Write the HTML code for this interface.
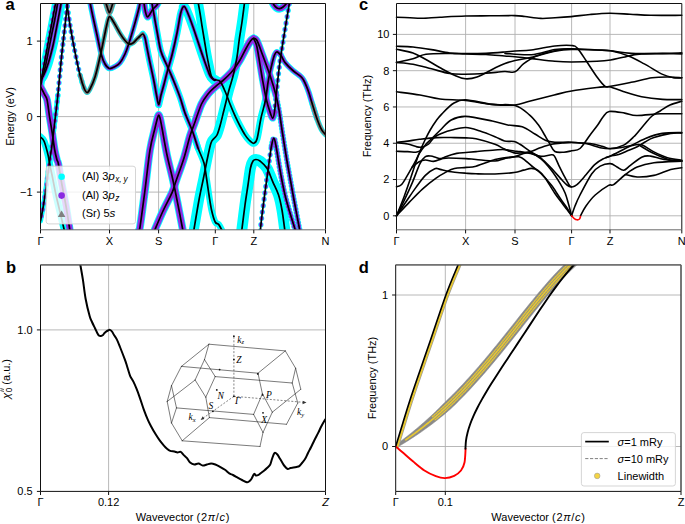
<!DOCTYPE html>
<html><head><meta charset="utf-8"><style>
html,body{margin:0;padding:0;background:#fff;}
svg{display:block;}
text{font-family:"Liberation Sans",sans-serif;}
text.sf{font-family:"Liberation Serif",serif;font-style:italic;}
</style></head><body>
<svg width="685" height="524" viewBox="0 0 685 524">
<defs><clipPath id="ca"><rect x="40.5" y="3.5" width="285.0" height="226.3"/></clipPath></defs>
<rect width="685" height="524" fill="#fff"/>
<path d="M109.5,3.5V229.8 M158.6,3.5V229.8 M215.3,3.5V229.8 M253.8,3.5V229.8 M40.5,192.10H325.5 M40.5,116.60H325.5 M40.5,41.10H325.5" stroke="#b0b0b0" stroke-width="0.9" fill="none"/>
<g clip-path="url(#ca)" fill="none" stroke-linecap="round" stroke-linejoin="round">
<path d="M80.00,75.00C80.67,77.17 82.83,85.08 84.00,88.00C85.17,90.92 86.00,92.33 87.00,92.50C88.00,92.67 88.67,91.58 90.00,89.00C91.33,86.42 93.33,82.33 95.00,77.00C96.67,71.67 98.50,63.50 100.00,57.00C101.50,50.50 102.83,43.50 104.00,38.00C105.17,32.50 106.10,27.55 107.00,24.00C107.90,20.45 108.40,17.20 109.40,16.70C110.40,16.20 111.23,18.22 113.00,21.00C114.77,23.78 118.00,30.15 120.00,33.40C122.00,36.65 123.50,38.73 125.00,40.50C126.50,42.27 127.67,43.58 129.00,44.00C130.33,44.42 131.50,44.00 133.00,43.00C134.50,42.00 136.38,39.50 138.00,38.00C139.62,36.50 141.92,34.67 142.70,34.00" stroke="#00ffff" stroke-width="5.0"/>
<path d="M142.70,34.00C143.08,34.67 144.28,35.67 145.00,38.00C145.72,40.33 146.27,44.33 147.00,48.00C147.73,51.67 148.28,54.67 149.40,60.00C150.52,65.33 152.52,74.17 153.70,80.00C154.88,85.83 155.67,90.88 156.50,95.00C157.33,99.12 158.33,103.08 158.70,104.70" stroke="#00ffff" stroke-width="6.5"/>
<path d="M158.70,104.70C159.08,103.08 160.15,98.28 161.00,95.00C161.85,91.72 162.77,88.83 163.80,85.00C164.83,81.17 165.83,77.00 167.20,72.00C168.57,67.00 170.37,61.50 172.00,55.00C173.63,48.50 175.58,39.83 177.00,33.00C178.42,26.17 179.47,18.35 180.50,14.00C181.53,9.65 182.75,8.08 183.20,6.90" stroke="#00ffff" stroke-width="7.0"/>
<path d="M183.20,6.90C183.67,7.25 184.35,5.62 186.00,9.00C187.65,12.38 190.40,19.63 193.10,27.20C195.80,34.77 199.48,46.55 202.20,54.40C204.92,62.25 207.68,70.28 209.40,74.30C211.12,78.32 211.53,77.58 212.50,78.50C213.47,79.42 214.75,79.58 215.20,79.80" stroke="#00ffff" stroke-width="9.0"/>
<path d="M215.20,79.80C216.05,80.10 218.53,79.40 220.30,81.60C222.07,83.80 224.18,89.27 225.80,93.00C227.42,96.73 228.40,100.05 230.00,104.00C231.60,107.95 233.73,113.03 235.40,116.70C237.07,120.37 238.40,122.97 240.00,126.00C241.60,129.03 243.50,132.57 245.00,134.90C246.50,137.23 247.58,138.60 249.00,140.00C250.42,141.40 252.17,143.47 253.50,143.30C254.83,143.13 255.75,143.22 257.00,139.00C258.25,134.78 259.58,124.50 261.00,118.00C262.42,111.50 264.27,106.30 265.50,100.00C266.73,93.70 267.92,83.50 268.40,80.20" stroke="#00ffff" stroke-width="7.0"/>
<path d="M265.50,100.00C265.98,96.70 267.28,86.37 268.40,80.20C269.52,74.03 271.18,67.20 272.20,63.00C273.22,58.80 273.72,56.87 274.50,55.00C275.28,53.13 275.82,51.72 276.90,51.80C277.98,51.88 279.60,53.65 281.00,55.50C282.40,57.35 283.32,60.40 285.30,62.90C287.28,65.40 290.35,68.27 292.90,70.50C295.45,72.73 298.83,74.72 300.60,76.30C302.37,77.88 302.55,78.42 303.50,80.00C304.45,81.58 305.38,83.63 306.30,85.80C307.22,87.97 308.05,90.13 309.00,93.00C309.95,95.87 310.70,98.80 312.00,103.00C313.30,107.20 316.00,115.67 316.80,118.20" stroke="#00ffff" stroke-width="5.8"/>
<path d="M312.00,103.00C312.80,105.53 315.20,113.75 316.80,118.20C318.40,122.65 320.15,126.98 321.60,129.70C323.05,132.42 324.85,133.70 325.50,134.50" stroke="#00ffff" stroke-width="5.5"/>
<path d="M105.00,0.00C105.42,1.33 106.77,5.88 107.50,8.00C108.23,10.12 108.77,12.70 109.40,12.70C110.03,12.70 110.57,10.12 111.30,8.00C112.03,5.88 113.38,1.33 113.80,0.00" stroke="#00ffff" stroke-width="6.0"/>
<path d="M89.50,0.00C90.08,2.83 91.75,11.17 93.00,17.00C94.25,22.83 95.60,28.67 97.00,35.00C98.40,41.33 100.07,50.17 101.40,55.00C102.73,59.83 103.67,61.75 105.00,64.00C106.33,66.25 107.73,68.08 109.40,68.50C111.07,68.92 113.23,67.45 115.00,66.50C116.77,65.55 118.33,64.88 120.00,62.80C121.67,60.72 123.55,57.13 125.00,54.00C126.45,50.87 127.08,49.00 128.70,44.00C130.32,39.00 132.98,30.00 134.70,24.00C136.42,18.00 138.03,12.00 139.00,8.00C139.97,4.00 140.25,1.33 140.50,0.00" stroke="#00ffff" stroke-width="5.6"/>
<path d="M143.50,0.00C143.83,2.00 144.83,9.17 145.50,12.00C146.17,14.83 146.75,16.67 147.50,17.00C148.25,17.33 149.08,15.33 150.00,14.00C150.92,12.67 151.83,10.50 153.00,9.00C154.17,7.50 155.92,6.50 157.00,5.00C158.08,3.50 159.08,0.83 159.50,0.00" stroke="#00ffff" stroke-width="7.0"/>
<path d="M151.80,0.00C151.90,0.95 151.50,0.28 152.40,5.70C153.30,11.12 155.77,24.85 157.20,32.50C158.63,40.15 159.40,46.18 161.00,51.60C162.60,57.02 164.73,60.23 166.80,65.00C168.87,69.77 171.18,74.78 173.40,80.20C175.62,85.62 178.17,92.03 180.10,97.50C182.03,102.97 182.95,107.42 185.00,113.00C187.05,118.58 190.23,125.17 192.40,131.00C194.57,136.83 197.07,145.17 198.00,148.00" stroke="#00ffff" stroke-width="6.5"/>
<path d="M192.40,131.00C193.33,133.83 196.07,142.67 198.00,148.00C199.93,153.33 202.58,158.00 204.00,163.00C205.42,168.00 205.67,172.67 206.50,178.00C207.33,183.33 208.15,189.63 209.00,195.00C209.85,200.37 210.57,205.70 211.60,210.20C212.63,214.70 214.00,219.60 215.20,222.00C216.40,224.40 217.62,223.10 218.80,224.60C219.98,226.10 221.72,229.93 222.30,231.00" stroke="#00ffff" stroke-width="6.5"/>
<path d="M154.30,231.00C155.75,227.67 160.02,217.45 163.00,211.00C165.98,204.55 170.03,197.30 172.20,192.30C174.37,187.30 174.03,186.72 176.00,181.00C177.97,175.28 181.67,165.50 184.00,158.00C186.33,150.50 188.17,142.00 190.00,136.00C191.83,130.00 193.08,127.33 195.00,122.00C196.92,116.67 199.33,108.67 201.50,104.00C203.67,99.33 205.72,96.87 208.00,94.00C210.28,91.13 212.70,89.05 215.20,86.80C217.70,84.55 220.33,82.88 223.00,80.50C225.67,78.12 229.20,74.67 231.20,72.50C233.20,70.33 233.53,69.58 235.00,67.50C236.47,65.42 238.17,63.17 240.00,60.00C241.83,56.83 244.25,51.67 246.00,48.50C247.75,45.33 249.23,42.68 250.50,41.00C251.77,39.32 253.08,38.83 253.60,38.40" stroke="#00ffff" stroke-width="8.0"/>
<path d="M253.60,38.40C254.17,38.75 255.50,37.73 257.00,40.50C258.50,43.27 260.38,49.03 262.60,55.00C264.82,60.97 268.07,69.57 270.30,76.30C272.53,83.03 275.05,92.22 276.00,95.40" stroke="#00ffff" stroke-width="7.0"/>
<path d="M253.60,38.40C254.08,39.50 255.63,41.85 256.50,45.00C257.37,48.15 257.78,51.43 258.80,57.30C259.82,63.17 261.32,73.08 262.60,80.20C263.88,87.32 265.27,94.70 266.50,100.00C267.73,105.30 268.97,108.98 270.00,112.00C271.03,115.02 271.95,118.10 272.70,118.10C273.45,118.10 274.20,113.02 274.50,112.00" stroke="#00ffff" stroke-width="7.0"/>
<path d="M193.70,231.00C194.58,225.83 197.37,208.83 199.00,200.00C200.63,191.17 202.08,185.00 203.50,178.00C204.92,171.00 206.25,163.83 207.50,158.00C208.75,152.17 209.92,146.25 211.00,143.00C212.08,139.75 213.00,139.83 214.00,138.50C215.00,137.17 216.00,137.08 217.00,135.00C218.00,132.92 218.78,130.38 220.00,126.00C221.22,121.62 222.80,114.70 224.30,108.70C225.80,102.70 227.47,95.73 229.00,90.00C230.53,84.27 232.17,79.80 233.50,74.30C234.83,68.80 236.05,62.72 237.00,57.00C237.95,51.28 238.37,45.83 239.20,40.00C240.03,34.17 241.12,28.17 242.00,22.00C242.88,15.83 244.00,6.67 244.50,3.00C245.00,-0.67 244.92,0.50 245.00,0.00" stroke="#00ffff" stroke-width="10.0"/>
<path d="M197.70,0.00C198.08,2.17 199.25,8.47 200.00,13.00C200.75,17.53 201.45,22.53 202.20,27.20C202.95,31.87 203.75,36.47 204.50,41.00C205.25,45.53 205.95,50.23 206.70,54.40C207.45,58.57 208.23,62.38 209.00,66.00C209.77,69.62 210.47,73.77 211.30,76.10C212.13,78.43 213.33,79.35 214.00,80.00C214.67,80.65 215.08,80.00 215.30,80.00" stroke="#00ffff" stroke-width="9.5"/>
<path d="M40.50,86.60C40.83,87.25 41.77,89.07 42.50,90.50C43.23,91.93 44.13,93.62 44.90,95.20C45.67,96.78 46.33,96.47 47.10,100.00C47.87,103.53 48.63,110.83 49.50,116.40C50.37,121.97 51.43,127.80 52.30,133.40C53.17,139.00 53.92,145.57 54.70,150.00C55.48,154.43 56.38,157.67 57.00,160.00C57.62,162.33 57.57,159.83 58.40,164.00C59.23,168.17 60.73,178.00 62.00,185.00C63.27,192.00 64.67,198.33 66.00,206.00C67.33,213.67 69.33,226.83 70.00,231.00" stroke="#00ffff" stroke-width="7.6"/>
<path d="M40.50,80.00C40.68,79.63 40.27,84.35 41.60,77.80C42.93,71.25 46.18,53.07 48.50,40.70C50.82,28.33 54.22,10.38 55.50,3.60C56.78,-3.18 56.08,0.60 56.20,0.00" stroke="#00ffff" stroke-width="7.0"/>
<path d="M40.50,86.20C40.62,85.67 40.95,84.25 41.20,83.00C41.45,81.75 41.32,81.42 42.00,78.70C42.68,75.98 44.08,72.03 45.30,66.70C46.52,61.37 48.18,52.32 49.30,46.70C50.42,41.08 51.10,37.45 52.00,33.00C52.90,28.55 53.87,24.33 54.70,20.00C55.53,15.67 56.45,10.33 57.00,7.00C57.55,3.67 57.83,1.17 58.00,0.00" stroke="#00ffff" stroke-width="7.0"/>
<path d="M40.50,79.40C40.97,78.83 42.05,78.57 43.30,76.00C44.55,73.43 46.43,68.88 48.00,64.00C49.57,59.12 51.45,51.87 52.70,46.70C53.95,41.53 54.62,37.45 55.50,33.00C56.38,28.55 57.15,24.50 58.00,20.00C58.85,15.50 60.02,9.33 60.60,6.00C61.18,2.67 61.35,1.00 61.50,0.00" stroke="#00ffff" stroke-width="9.0"/>
<path d="M57.90,94.80C57.42,99.00 55.98,111.63 55.00,120.00C54.02,128.37 52.92,138.00 52.00,145.00C51.08,152.00 50.42,155.33 49.50,162.00C48.58,168.67 47.50,177.83 46.50,185.00C45.50,192.17 44.50,199.00 43.50,205.00C42.50,211.00 41.00,218.33 40.50,221.00" stroke="#00ffff" stroke-width="5.0"/>
<path d="M40.50,137.00C41.10,137.72 42.82,138.20 44.10,141.30C45.38,144.40 47.25,151.68 48.20,155.60C49.15,159.52 49.17,161.57 49.80,164.80C50.43,168.03 50.97,169.97 52.00,175.00C53.03,180.03 54.67,188.83 56.00,195.00C57.33,201.17 58.58,206.00 60.00,212.00C61.42,218.00 63.75,227.83 64.50,231.00" stroke="#00ffff" stroke-width="7.0"/>
<path d="M138.50,231.00C138.75,230.33 138.92,233.83 140.00,227.00C141.08,220.17 143.33,202.83 145.00,190.00C146.67,177.17 148.33,160.33 150.00,150.00C151.67,139.67 153.75,133.33 155.00,128.00C156.25,122.67 156.88,120.17 157.50,118.00C158.12,115.83 158.28,115.00 158.70,115.00C159.12,115.00 159.45,115.83 160.00,118.00C160.55,120.17 160.83,121.83 162.00,128.00C163.17,134.17 165.18,146.33 167.00,155.00C168.82,163.67 171.07,171.67 172.90,180.00C174.73,188.33 176.32,196.50 178.00,205.00C179.68,213.50 182.17,226.67 183.00,231.00" stroke="#00ffff" stroke-width="7.8"/>
<path d="M241.70,231.00C242.25,226.67 243.95,212.67 245.00,205.00C246.05,197.33 247.08,191.17 248.00,185.00C248.92,178.83 249.67,172.00 250.50,168.00C251.33,164.00 252.08,162.42 253.00,161.00C253.92,159.58 254.83,159.50 256.00,159.50C257.17,159.50 258.17,159.53 260.00,161.00C261.83,162.47 264.88,164.87 267.00,168.30C269.12,171.73 270.78,177.18 272.70,181.60C274.62,186.02 276.95,190.07 278.50,194.80C280.05,199.53 280.93,203.97 282.00,210.00C283.07,216.03 284.42,227.50 284.90,231.00" stroke="#00ffff" stroke-width="11.0"/>
<path d="M271.50,0.00C271.92,0.83 273.08,3.67 274.00,5.00C274.92,6.33 276.03,7.40 277.00,8.00C277.97,8.60 278.80,8.77 279.80,8.60C280.80,8.43 281.97,7.77 283.00,7.00C284.03,6.23 285.10,5.17 286.00,4.00C286.90,2.83 288.00,0.67 288.40,0.00" stroke="#00ffff" stroke-width="8.0"/>
<path d="M66.50,0.00C67.08,4.17 68.58,16.33 70.00,25.00C71.42,33.67 73.33,43.67 75.00,52.00C76.67,60.33 78.50,69.00 80.00,75.00C81.50,81.00 83.33,85.83 84.00,88.00" stroke="#00ffff" stroke-width="5.3" stroke-dasharray="0 6.4"/>
<path d="M276.00,95.40C276.50,97.83 278.00,104.23 279.00,110.00C280.00,115.77 280.70,121.67 282.00,130.00C283.30,138.33 285.60,152.77 286.80,160.00C288.00,167.23 288.00,166.73 289.20,173.40C290.40,180.07 292.22,190.40 294.00,200.00C295.78,209.60 298.92,225.83 299.90,231.00" stroke="#00ffff" stroke-width="5.6" stroke-dasharray="0 3.4"/>
<path d="M274.50,112.00C274.87,108.33 275.82,98.17 276.70,90.00C277.58,81.83 278.65,71.63 279.80,63.00C280.95,54.37 282.00,48.20 283.60,38.20C285.20,28.20 288.35,9.37 289.40,3.00C290.45,-3.37 289.82,0.50 289.90,0.00" stroke="#00ffff" stroke-width="5.3" stroke-dasharray="0 6.4"/>
<path d="M40.50,80.00C40.68,79.63 40.27,84.35 41.60,77.80C42.93,71.25 46.18,53.07 48.50,40.70C50.82,28.33 54.22,10.38 55.50,3.60C56.78,-3.18 56.08,0.60 56.20,0.00" stroke="#00ffff" stroke-width="5.3" stroke-dasharray="0 6.4"/>
<path d="M67.90,0.00C67.33,5.00 65.57,20.50 64.50,30.00C63.43,39.50 62.60,46.20 61.50,57.00C60.40,67.80 58.98,84.30 57.90,94.80C56.82,105.30 55.98,111.63 55.00,120.00C54.02,128.37 52.92,138.00 52.00,145.00C51.08,152.00 50.42,155.33 49.50,162.00C48.58,168.67 47.50,177.83 46.50,185.00C45.50,192.17 44.50,199.00 43.50,205.00C42.50,211.00 41.00,218.33 40.50,221.00" stroke="#00ffff" stroke-width="5.3" stroke-dasharray="0 6.4"/>
<path d="M260.30,231.00C260.58,228.33 261.05,222.67 262.00,215.00C262.95,207.33 264.77,194.17 266.00,185.00C267.23,175.83 268.48,166.50 269.40,160.00C270.32,153.50 270.77,149.63 271.50,146.00C272.23,142.37 273.42,139.50 273.80,138.20" stroke="#00ffff" stroke-width="5.3" stroke-dasharray="0 6.4"/>
<path d="M271.50,146.00C271.88,144.70 273.05,138.20 273.80,138.20C274.55,138.20 274.87,140.13 276.00,146.00C277.13,151.87 279.10,165.23 280.60,173.40C282.10,181.57 283.43,188.40 285.00,195.00C286.57,201.60 288.23,207.00 290.00,213.00C291.77,219.00 294.67,228.00 295.60,231.00" stroke="#00ffff" stroke-width="5.8" stroke-dasharray="0 3.4"/>
<path d="M142.70,34.00C143.08,34.67 144.28,35.67 145.00,38.00C145.72,40.33 146.27,44.33 147.00,48.00C147.73,51.67 148.28,54.67 149.40,60.00C150.52,65.33 152.52,74.17 153.70,80.00C154.88,85.83 155.67,90.88 156.50,95.00C157.33,99.12 158.33,103.08 158.70,104.70" stroke="#8e2ee6" stroke-width="3.6"/>
<path d="M158.70,104.70C159.08,103.08 160.15,98.28 161.00,95.00C161.85,91.72 162.77,88.83 163.80,85.00C164.83,81.17 165.83,77.00 167.20,72.00C168.57,67.00 170.37,61.50 172.00,55.00C173.63,48.50 175.58,39.83 177.00,33.00C178.42,26.17 179.47,18.35 180.50,14.00C181.53,9.65 182.75,8.08 183.20,6.90" stroke="#8e2ee6" stroke-width="3.6"/>
<path d="M183.20,6.90C183.67,7.25 184.35,5.62 186.00,9.00C187.65,12.38 190.40,19.63 193.10,27.20C195.80,34.77 199.48,46.55 202.20,54.40C204.92,62.25 207.68,70.28 209.40,74.30C211.12,78.32 211.53,77.58 212.50,78.50C213.47,79.42 214.75,79.58 215.20,79.80" stroke="#8e2ee6" stroke-width="3.4"/>
<path d="M265.50,100.00C265.98,96.70 267.28,86.37 268.40,80.20C269.52,74.03 271.18,67.20 272.20,63.00C273.22,58.80 273.72,56.87 274.50,55.00C275.28,53.13 275.82,51.72 276.90,51.80C277.98,51.88 279.60,53.65 281.00,55.50C282.40,57.35 283.32,60.40 285.30,62.90C287.28,65.40 290.35,68.27 292.90,70.50C295.45,72.73 298.83,74.72 300.60,76.30C302.37,77.88 302.55,78.42 303.50,80.00C304.45,81.58 305.38,83.63 306.30,85.80C307.22,87.97 308.05,90.13 309.00,93.00C309.95,95.87 310.70,98.80 312.00,103.00C313.30,107.20 316.00,115.67 316.80,118.20" stroke="#8e2ee6" stroke-width="4.2"/>
<path d="M89.50,0.00C90.08,2.83 91.75,11.17 93.00,17.00C94.25,22.83 95.60,28.67 97.00,35.00C98.40,41.33 100.07,50.17 101.40,55.00C102.73,59.83 103.67,61.75 105.00,64.00C106.33,66.25 107.73,68.08 109.40,68.50C111.07,68.92 113.23,67.45 115.00,66.50C116.77,65.55 118.33,64.88 120.00,62.80C121.67,60.72 123.55,57.13 125.00,54.00C126.45,50.87 127.08,49.00 128.70,44.00C130.32,39.00 132.98,30.00 134.70,24.00C136.42,18.00 138.03,12.00 139.00,8.00C139.97,4.00 140.25,1.33 140.50,0.00" stroke="#8e2ee6" stroke-width="3.8"/>
<path d="M143.50,0.00C143.83,2.00 144.83,9.17 145.50,12.00C146.17,14.83 146.75,16.67 147.50,17.00C148.25,17.33 149.08,15.33 150.00,14.00C150.92,12.67 151.83,10.50 153.00,9.00C154.17,7.50 155.92,6.50 157.00,5.00C158.08,3.50 159.08,0.83 159.50,0.00" stroke="#8e2ee6" stroke-width="5.0"/>
<path d="M151.80,0.00C151.90,0.95 151.50,0.28 152.40,5.70C153.30,11.12 155.77,24.85 157.20,32.50C158.63,40.15 159.40,46.18 161.00,51.60C162.60,57.02 164.73,60.23 166.80,65.00C168.87,69.77 171.18,74.78 173.40,80.20C175.62,85.62 178.17,92.03 180.10,97.50C182.03,102.97 182.95,107.42 185.00,113.00C187.05,118.58 190.23,125.17 192.40,131.00C194.57,136.83 197.07,145.17 198.00,148.00" stroke="#8e2ee6" stroke-width="3.5"/>
<path d="M154.30,231.00C155.75,227.67 160.02,217.45 163.00,211.00C165.98,204.55 170.03,197.30 172.20,192.30C174.37,187.30 174.03,186.72 176.00,181.00C177.97,175.28 181.67,165.50 184.00,158.00C186.33,150.50 188.17,142.00 190.00,136.00C191.83,130.00 193.08,127.33 195.00,122.00C196.92,116.67 199.33,108.67 201.50,104.00C203.67,99.33 205.72,96.87 208.00,94.00C210.28,91.13 212.70,89.05 215.20,86.80C217.70,84.55 220.33,82.88 223.00,80.50C225.67,78.12 229.20,74.67 231.20,72.50C233.20,70.33 233.53,69.58 235.00,67.50C236.47,65.42 238.17,63.17 240.00,60.00C241.83,56.83 244.25,51.67 246.00,48.50C247.75,45.33 249.23,42.68 250.50,41.00C251.77,39.32 253.08,38.83 253.60,38.40" stroke="#8e2ee6" stroke-width="6.3"/>
<path d="M253.60,38.40C254.17,38.75 255.50,37.73 257.00,40.50C258.50,43.27 260.38,49.03 262.60,55.00C264.82,60.97 268.07,69.57 270.30,76.30C272.53,83.03 275.05,92.22 276.00,95.40" stroke="#8e2ee6" stroke-width="5.5"/>
<path d="M253.60,38.40C254.08,39.50 255.63,41.85 256.50,45.00C257.37,48.15 257.78,51.43 258.80,57.30C259.82,63.17 261.32,73.08 262.60,80.20C263.88,87.32 265.27,94.70 266.50,100.00C267.73,105.30 268.97,108.98 270.00,112.00C271.03,115.02 271.95,118.10 272.70,118.10C273.45,118.10 274.20,113.02 274.50,112.00" stroke="#8e2ee6" stroke-width="5.5"/>
<path d="M40.50,86.60C40.83,87.25 41.77,89.07 42.50,90.50C43.23,91.93 44.13,93.62 44.90,95.20C45.67,96.78 46.33,96.47 47.10,100.00C47.87,103.53 48.63,110.83 49.50,116.40C50.37,121.97 51.43,127.80 52.30,133.40C53.17,139.00 53.92,145.57 54.70,150.00C55.48,154.43 56.38,157.67 57.00,160.00C57.62,162.33 57.57,159.83 58.40,164.00C59.23,168.17 60.73,178.00 62.00,185.00C63.27,192.00 64.67,198.33 66.00,206.00C67.33,213.67 69.33,226.83 70.00,231.00" stroke="#8e2ee6" stroke-width="6.2"/>
<path d="M40.50,86.20C40.62,85.67 40.95,84.25 41.20,83.00C41.45,81.75 41.32,81.42 42.00,78.70C42.68,75.98 44.08,72.03 45.30,66.70C46.52,61.37 48.18,52.32 49.30,46.70C50.42,41.08 51.10,37.45 52.00,33.00C52.90,28.55 53.87,24.33 54.70,20.00C55.53,15.67 56.45,10.33 57.00,7.00C57.55,3.67 57.83,1.17 58.00,0.00" stroke="#8e2ee6" stroke-width="3.2"/>
<path d="M40.50,79.40C40.97,78.83 42.05,78.57 43.30,76.00C44.55,73.43 46.43,68.88 48.00,64.00C49.57,59.12 51.45,51.87 52.70,46.70C53.95,41.53 54.62,37.45 55.50,33.00C56.38,28.55 57.15,24.50 58.00,20.00C58.85,15.50 60.02,9.33 60.60,6.00C61.18,2.67 61.35,1.00 61.50,0.00" stroke="#8e2ee6" stroke-width="3.4"/>
<path d="M138.50,231.00C138.75,230.33 138.92,233.83 140.00,227.00C141.08,220.17 143.33,202.83 145.00,190.00C146.67,177.17 148.33,160.33 150.00,150.00C151.67,139.67 153.75,133.33 155.00,128.00C156.25,122.67 156.88,120.17 157.50,118.00C158.12,115.83 158.28,115.00 158.70,115.00C159.12,115.00 159.45,115.83 160.00,118.00C160.55,120.17 160.83,121.83 162.00,128.00C163.17,134.17 165.18,146.33 167.00,155.00C168.82,163.67 171.07,171.67 172.90,180.00C174.73,188.33 176.32,196.50 178.00,205.00C179.68,213.50 182.17,226.67 183.00,231.00" stroke="#8e2ee6" stroke-width="6.2"/>
<path d="M271.50,0.00C271.92,0.83 273.08,3.67 274.00,5.00C274.92,6.33 276.03,7.40 277.00,8.00C277.97,8.60 278.80,8.77 279.80,8.60C280.80,8.43 281.97,7.77 283.00,7.00C284.03,6.23 285.10,5.17 286.00,4.00C286.90,2.83 288.00,0.67 288.40,0.00" stroke="#8e2ee6" stroke-width="5.5"/>
<path d="M66.50,0.00C67.08,4.17 68.58,16.33 70.00,25.00C71.42,33.67 73.33,43.67 75.00,52.00C76.67,60.33 78.50,69.00 80.00,75.00C81.50,81.00 83.33,85.83 84.00,88.00" stroke="#8e2ee6" stroke-width="4.2" stroke-dasharray="0 6.4"/>
<path d="M276.00,95.40C276.50,97.83 278.00,104.23 279.00,110.00C280.00,115.77 280.70,121.67 282.00,130.00C283.30,138.33 285.60,152.77 286.80,160.00C288.00,167.23 288.00,166.73 289.20,173.40C290.40,180.07 292.22,190.40 294.00,200.00C295.78,209.60 298.92,225.83 299.90,231.00" stroke="#8e2ee6" stroke-width="4.4" stroke-dasharray="0 3.4"/>
<path d="M274.50,112.00C274.87,108.33 275.82,98.17 276.70,90.00C277.58,81.83 278.65,71.63 279.80,63.00C280.95,54.37 282.00,48.20 283.60,38.20C285.20,28.20 288.35,9.37 289.40,3.00C290.45,-3.37 289.82,0.50 289.90,0.00" stroke="#8e2ee6" stroke-width="4.2" stroke-dasharray="0 6.4"/>
<path d="M40.50,80.00C40.68,79.63 40.27,84.35 41.60,77.80C42.93,71.25 46.18,53.07 48.50,40.70C50.82,28.33 54.22,10.38 55.50,3.60C56.78,-3.18 56.08,0.60 56.20,0.00" stroke="#8e2ee6" stroke-width="4.2" stroke-dasharray="0 6.4"/>
<path d="M67.90,0.00C67.33,5.00 65.57,20.50 64.50,30.00C63.43,39.50 62.60,46.20 61.50,57.00C60.40,67.80 58.98,84.30 57.90,94.80C56.82,105.30 55.98,111.63 55.00,120.00C54.02,128.37 52.92,138.00 52.00,145.00C51.08,152.00 50.42,155.33 49.50,162.00C48.58,168.67 47.50,177.83 46.50,185.00C45.50,192.17 44.50,199.00 43.50,205.00C42.50,211.00 41.00,218.33 40.50,221.00" stroke="#8e2ee6" stroke-width="4.2" stroke-dasharray="0 6.4"/>
<path d="M260.30,231.00C260.58,228.33 261.05,222.67 262.00,215.00C262.95,207.33 264.77,194.17 266.00,185.00C267.23,175.83 268.48,166.50 269.40,160.00C270.32,153.50 270.77,149.63 271.50,146.00C272.23,142.37 273.42,139.50 273.80,138.20" stroke="#8e2ee6" stroke-width="4.2" stroke-dasharray="0 6.4"/>
<path d="M271.50,146.00C271.88,144.70 273.05,138.20 273.80,138.20C274.55,138.20 274.87,140.13 276.00,146.00C277.13,151.87 279.10,165.23 280.60,173.40C282.10,181.57 283.43,188.40 285.00,195.00C286.57,201.60 288.23,207.00 290.00,213.00C291.77,219.00 294.67,228.00 295.60,231.00" stroke="#8e2ee6" stroke-width="4.6" stroke-dasharray="0 3.4"/>
<path d="M80.00,75.00C80.67,77.17 82.83,85.08 84.00,88.00C85.17,90.92 86.00,92.33 87.00,92.50C88.00,92.67 88.67,91.58 90.00,89.00C91.33,86.42 93.33,82.33 95.00,77.00C96.67,71.67 98.50,63.50 100.00,57.00C101.50,50.50 102.83,43.50 104.00,38.00C105.17,32.50 106.10,27.55 107.00,24.00C107.90,20.45 108.40,17.20 109.40,16.70C110.40,16.20 111.23,18.22 113.00,21.00C114.77,23.78 118.00,30.15 120.00,33.40C122.00,36.65 123.50,38.73 125.00,40.50C126.50,42.27 127.67,43.58 129.00,44.00C130.33,44.42 131.50,44.00 133.00,43.00C134.50,42.00 136.38,39.50 138.00,38.00C139.62,36.50 141.92,34.67 142.70,34.00" stroke="#808080" stroke-width="3.9"/>
<path d="M312.00,103.00C312.80,105.53 315.20,113.75 316.80,118.20C318.40,122.65 320.15,126.98 321.60,129.70C323.05,132.42 324.85,133.70 325.50,134.50" stroke="#808080" stroke-width="4.2"/>
<path d="M105.00,0.00C105.42,1.33 106.77,5.88 107.50,8.00C108.23,10.12 108.77,12.70 109.40,12.70C110.03,12.70 110.57,10.12 111.30,8.00C112.03,5.88 113.38,1.33 113.80,0.00" stroke="#808080" stroke-width="5.0"/>
<path d="M66.50,0.00C67.08,4.17 68.58,16.33 70.00,25.00C71.42,33.67 73.33,43.67 75.00,52.00C76.67,60.33 78.50,69.00 80.00,75.00C81.50,81.00 82.83,85.08 84.00,88.00C85.17,90.92 86.00,92.33 87.00,92.50C88.00,92.67 88.67,91.58 90.00,89.00C91.33,86.42 93.33,82.33 95.00,77.00C96.67,71.67 98.50,63.50 100.00,57.00C101.50,50.50 102.83,43.50 104.00,38.00C105.17,32.50 106.10,27.55 107.00,24.00C107.90,20.45 108.40,17.20 109.40,16.70C110.40,16.20 111.23,18.22 113.00,21.00C114.77,23.78 118.00,30.15 120.00,33.40C122.00,36.65 123.50,38.73 125.00,40.50C126.50,42.27 127.67,43.58 129.00,44.00C130.33,44.42 131.50,44.00 133.00,43.00C134.50,42.00 136.38,39.50 138.00,38.00C139.62,36.50 141.53,34.00 142.70,34.00C143.87,34.00 144.28,35.67 145.00,38.00C145.72,40.33 146.27,44.33 147.00,48.00C147.73,51.67 148.28,54.67 149.40,60.00C150.52,65.33 152.52,74.17 153.70,80.00C154.88,85.83 155.67,90.88 156.50,95.00C157.33,99.12 157.95,104.70 158.70,104.70C159.45,104.70 160.15,98.28 161.00,95.00C161.85,91.72 162.77,88.83 163.80,85.00C164.83,81.17 165.83,77.00 167.20,72.00C168.57,67.00 170.37,61.50 172.00,55.00C173.63,48.50 175.58,39.83 177.00,33.00C178.42,26.17 179.47,18.35 180.50,14.00C181.53,9.65 182.28,7.73 183.20,6.90C184.12,6.07 184.35,5.62 186.00,9.00C187.65,12.38 190.40,19.63 193.10,27.20C195.80,34.77 199.48,46.55 202.20,54.40C204.92,62.25 207.68,70.28 209.40,74.30C211.12,78.32 211.53,77.58 212.50,78.50C213.47,79.42 213.90,79.28 215.20,79.80C216.50,80.32 218.53,79.40 220.30,81.60C222.07,83.80 224.18,89.27 225.80,93.00C227.42,96.73 228.40,100.05 230.00,104.00C231.60,107.95 233.73,113.03 235.40,116.70C237.07,120.37 238.40,122.97 240.00,126.00C241.60,129.03 243.50,132.57 245.00,134.90C246.50,137.23 247.58,138.60 249.00,140.00C250.42,141.40 252.17,143.47 253.50,143.30C254.83,143.13 255.75,143.22 257.00,139.00C258.25,134.78 259.58,124.50 261.00,118.00C262.42,111.50 264.27,106.30 265.50,100.00C266.73,93.70 267.28,86.37 268.40,80.20C269.52,74.03 271.18,67.20 272.20,63.00C273.22,58.80 273.72,56.87 274.50,55.00C275.28,53.13 275.82,51.72 276.90,51.80C277.98,51.88 279.60,53.65 281.00,55.50C282.40,57.35 283.32,60.40 285.30,62.90C287.28,65.40 290.35,68.27 292.90,70.50C295.45,72.73 298.83,74.72 300.60,76.30C302.37,77.88 302.55,78.42 303.50,80.00C304.45,81.58 305.38,83.63 306.30,85.80C307.22,87.97 308.05,90.13 309.00,93.00C309.95,95.87 310.70,98.80 312.00,103.00C313.30,107.20 315.20,113.75 316.80,118.20C318.40,122.65 320.15,126.98 321.60,129.70C323.05,132.42 324.85,133.70 325.50,134.50" stroke="#000" stroke-width="1.7"/>
<path d="M105.00,0.00C105.42,1.33 106.77,5.88 107.50,8.00C108.23,10.12 108.77,12.70 109.40,12.70C110.03,12.70 110.57,10.12 111.30,8.00C112.03,5.88 113.38,1.33 113.80,0.00" stroke="#000" stroke-width="1.7"/>
<path d="M89.50,0.00C90.08,2.83 91.75,11.17 93.00,17.00C94.25,22.83 95.60,28.67 97.00,35.00C98.40,41.33 100.07,50.17 101.40,55.00C102.73,59.83 103.67,61.75 105.00,64.00C106.33,66.25 107.73,68.08 109.40,68.50C111.07,68.92 113.23,67.45 115.00,66.50C116.77,65.55 118.33,64.88 120.00,62.80C121.67,60.72 123.55,57.13 125.00,54.00C126.45,50.87 127.08,49.00 128.70,44.00C130.32,39.00 132.98,30.00 134.70,24.00C136.42,18.00 138.03,12.00 139.00,8.00C139.97,4.00 140.25,1.33 140.50,0.00" stroke="#000" stroke-width="1.7"/>
<path d="M143.50,0.00C143.83,2.00 144.83,9.17 145.50,12.00C146.17,14.83 146.75,16.67 147.50,17.00C148.25,17.33 149.08,15.33 150.00,14.00C150.92,12.67 151.83,10.50 153.00,9.00C154.17,7.50 155.92,6.50 157.00,5.00C158.08,3.50 159.08,0.83 159.50,0.00" stroke="#000" stroke-width="1.7"/>
<path d="M151.80,0.00C151.90,0.95 151.50,0.28 152.40,5.70C153.30,11.12 155.77,24.85 157.20,32.50C158.63,40.15 159.40,46.18 161.00,51.60C162.60,57.02 164.73,60.23 166.80,65.00C168.87,69.77 171.18,74.78 173.40,80.20C175.62,85.62 178.17,92.03 180.10,97.50C182.03,102.97 182.95,107.42 185.00,113.00C187.05,118.58 190.23,125.17 192.40,131.00C194.57,136.83 196.07,142.67 198.00,148.00C199.93,153.33 202.58,158.00 204.00,163.00C205.42,168.00 205.67,172.67 206.50,178.00C207.33,183.33 208.15,189.63 209.00,195.00C209.85,200.37 210.57,205.70 211.60,210.20C212.63,214.70 214.00,219.60 215.20,222.00C216.40,224.40 217.62,223.10 218.80,224.60C219.98,226.10 221.72,229.93 222.30,231.00" stroke="#000" stroke-width="1.7"/>
<path d="M154.30,231.00C155.75,227.67 160.02,217.45 163.00,211.00C165.98,204.55 170.03,197.30 172.20,192.30C174.37,187.30 174.03,186.72 176.00,181.00C177.97,175.28 181.67,165.50 184.00,158.00C186.33,150.50 188.17,142.00 190.00,136.00C191.83,130.00 193.08,127.33 195.00,122.00C196.92,116.67 199.33,108.67 201.50,104.00C203.67,99.33 205.72,96.87 208.00,94.00C210.28,91.13 212.70,89.05 215.20,86.80C217.70,84.55 220.33,82.88 223.00,80.50C225.67,78.12 229.20,74.67 231.20,72.50C233.20,70.33 233.53,69.58 235.00,67.50C236.47,65.42 238.17,63.17 240.00,60.00C241.83,56.83 244.25,51.67 246.00,48.50C247.75,45.33 249.23,42.68 250.50,41.00C251.77,39.32 252.52,38.48 253.60,38.40C254.68,38.32 255.50,37.73 257.00,40.50C258.50,43.27 260.38,49.03 262.60,55.00C264.82,60.97 268.07,69.57 270.30,76.30C272.53,83.03 274.55,89.78 276.00,95.40C277.45,101.02 278.00,104.23 279.00,110.00C280.00,115.77 280.70,121.67 282.00,130.00C283.30,138.33 285.60,152.77 286.80,160.00C288.00,167.23 288.00,166.73 289.20,173.40C290.40,180.07 292.22,190.40 294.00,200.00C295.78,209.60 298.92,225.83 299.90,231.00" stroke="#000" stroke-width="1.7"/>
<path d="M253.60,38.40C254.08,39.50 255.63,41.85 256.50,45.00C257.37,48.15 257.78,51.43 258.80,57.30C259.82,63.17 261.32,73.08 262.60,80.20C263.88,87.32 265.27,94.70 266.50,100.00C267.73,105.30 268.97,108.98 270.00,112.00C271.03,115.02 271.95,118.10 272.70,118.10C273.45,118.10 273.83,116.68 274.50,112.00C275.17,107.32 275.82,98.17 276.70,90.00C277.58,81.83 278.65,71.63 279.80,63.00C280.95,54.37 282.00,48.20 283.60,38.20C285.20,28.20 288.35,9.37 289.40,3.00C290.45,-3.37 289.82,0.50 289.90,0.00" stroke="#000" stroke-width="1.7"/>
<path d="M193.70,231.00C194.58,225.83 197.37,208.83 199.00,200.00C200.63,191.17 202.08,185.00 203.50,178.00C204.92,171.00 206.25,163.83 207.50,158.00C208.75,152.17 209.92,146.25 211.00,143.00C212.08,139.75 213.00,139.83 214.00,138.50C215.00,137.17 216.00,137.08 217.00,135.00C218.00,132.92 218.78,130.38 220.00,126.00C221.22,121.62 222.80,114.70 224.30,108.70C225.80,102.70 227.47,95.73 229.00,90.00C230.53,84.27 232.17,79.80 233.50,74.30C234.83,68.80 236.05,62.72 237.00,57.00C237.95,51.28 238.37,45.83 239.20,40.00C240.03,34.17 241.12,28.17 242.00,22.00C242.88,15.83 244.00,6.67 244.50,3.00C245.00,-0.67 244.92,0.50 245.00,0.00" stroke="#000" stroke-width="1.7"/>
<path d="M197.70,0.00C198.08,2.17 199.25,8.47 200.00,13.00C200.75,17.53 201.45,22.53 202.20,27.20C202.95,31.87 203.75,36.47 204.50,41.00C205.25,45.53 205.95,50.23 206.70,54.40C207.45,58.57 208.23,62.38 209.00,66.00C209.77,69.62 210.47,73.77 211.30,76.10C212.13,78.43 213.33,79.35 214.00,80.00C214.67,80.65 215.08,80.00 215.30,80.00" stroke="#000" stroke-width="1.7"/>
<path d="M40.50,86.60C40.83,87.25 41.77,89.07 42.50,90.50C43.23,91.93 44.13,93.62 44.90,95.20C45.67,96.78 46.33,96.47 47.10,100.00C47.87,103.53 48.63,110.83 49.50,116.40C50.37,121.97 51.43,127.80 52.30,133.40C53.17,139.00 53.92,145.57 54.70,150.00C55.48,154.43 56.38,157.67 57.00,160.00C57.62,162.33 57.57,159.83 58.40,164.00C59.23,168.17 60.73,178.00 62.00,185.00C63.27,192.00 64.67,198.33 66.00,206.00C67.33,213.67 69.33,226.83 70.00,231.00" stroke="#000" stroke-width="1.7"/>
<path d="M40.50,80.00C40.68,79.63 40.27,84.35 41.60,77.80C42.93,71.25 46.18,53.07 48.50,40.70C50.82,28.33 54.22,10.38 55.50,3.60C56.78,-3.18 56.08,0.60 56.20,0.00" stroke="#000" stroke-width="1.7"/>
<path d="M40.50,86.20C40.62,85.67 40.95,84.25 41.20,83.00C41.45,81.75 41.32,81.42 42.00,78.70C42.68,75.98 44.08,72.03 45.30,66.70C46.52,61.37 48.18,52.32 49.30,46.70C50.42,41.08 51.10,37.45 52.00,33.00C52.90,28.55 53.87,24.33 54.70,20.00C55.53,15.67 56.45,10.33 57.00,7.00C57.55,3.67 57.83,1.17 58.00,0.00" stroke="#000" stroke-width="1.7"/>
<path d="M40.50,79.40C40.97,78.83 42.05,78.57 43.30,76.00C44.55,73.43 46.43,68.88 48.00,64.00C49.57,59.12 51.45,51.87 52.70,46.70C53.95,41.53 54.62,37.45 55.50,33.00C56.38,28.55 57.15,24.50 58.00,20.00C58.85,15.50 60.02,9.33 60.60,6.00C61.18,2.67 61.35,1.00 61.50,0.00" stroke="#000" stroke-width="1.7"/>
<path d="M67.90,0.00C67.33,5.00 65.57,20.50 64.50,30.00C63.43,39.50 62.60,46.20 61.50,57.00C60.40,67.80 58.98,84.30 57.90,94.80C56.82,105.30 55.98,111.63 55.00,120.00C54.02,128.37 52.92,138.00 52.00,145.00C51.08,152.00 50.42,155.33 49.50,162.00C48.58,168.67 47.50,177.83 46.50,185.00C45.50,192.17 44.50,199.00 43.50,205.00C42.50,211.00 41.00,218.33 40.50,221.00" stroke="#000" stroke-width="1.7"/>
<path d="M40.50,137.00C41.10,137.72 42.82,138.20 44.10,141.30C45.38,144.40 47.25,151.68 48.20,155.60C49.15,159.52 49.17,161.57 49.80,164.80C50.43,168.03 50.97,169.97 52.00,175.00C53.03,180.03 54.67,188.83 56.00,195.00C57.33,201.17 58.58,206.00 60.00,212.00C61.42,218.00 63.75,227.83 64.50,231.00" stroke="#000" stroke-width="1.7"/>
<path d="M138.50,231.00C138.75,230.33 138.92,233.83 140.00,227.00C141.08,220.17 143.33,202.83 145.00,190.00C146.67,177.17 148.33,160.33 150.00,150.00C151.67,139.67 153.75,133.33 155.00,128.00C156.25,122.67 156.88,120.17 157.50,118.00C158.12,115.83 158.28,115.00 158.70,115.00C159.12,115.00 159.45,115.83 160.00,118.00C160.55,120.17 160.83,121.83 162.00,128.00C163.17,134.17 165.18,146.33 167.00,155.00C168.82,163.67 171.07,171.67 172.90,180.00C174.73,188.33 176.32,196.50 178.00,205.00C179.68,213.50 182.17,226.67 183.00,231.00" stroke="#000" stroke-width="1.7"/>
<path d="M241.70,231.00C242.25,226.67 243.95,212.67 245.00,205.00C246.05,197.33 247.08,191.17 248.00,185.00C248.92,178.83 249.67,172.00 250.50,168.00C251.33,164.00 252.08,162.42 253.00,161.00C253.92,159.58 254.83,159.50 256.00,159.50C257.17,159.50 258.17,159.53 260.00,161.00C261.83,162.47 264.88,164.87 267.00,168.30C269.12,171.73 270.78,177.18 272.70,181.60C274.62,186.02 276.95,190.07 278.50,194.80C280.05,199.53 280.93,203.97 282.00,210.00C283.07,216.03 284.42,227.50 284.90,231.00" stroke="#000" stroke-width="1.7"/>
<path d="M260.30,231.00C260.58,228.33 261.05,222.67 262.00,215.00C262.95,207.33 264.77,194.17 266.00,185.00C267.23,175.83 268.48,166.50 269.40,160.00C270.32,153.50 270.77,149.63 271.50,146.00C272.23,142.37 273.05,138.20 273.80,138.20C274.55,138.20 274.87,140.13 276.00,146.00C277.13,151.87 279.10,165.23 280.60,173.40C282.10,181.57 283.43,188.40 285.00,195.00C286.57,201.60 288.23,207.00 290.00,213.00C291.77,219.00 294.67,228.00 295.60,231.00" stroke="#000" stroke-width="1.7"/>
<path d="M271.50,0.00C271.92,0.83 273.08,3.67 274.00,5.00C274.92,6.33 276.03,7.40 277.00,8.00C277.97,8.60 278.80,8.77 279.80,8.60C280.80,8.43 281.97,7.77 283.00,7.00C284.03,6.23 285.10,5.17 286.00,4.00C286.90,2.83 288.00,0.67 288.40,0.00" stroke="#000" stroke-width="1.7"/>
</g>
<path d="M40.50,3.50V229.80" stroke="#111" stroke-width="1.00" fill="none"/>
<path d="M325.50,3.50V229.80" stroke="#111" stroke-width="1.00" fill="none"/>
<path d="M40.50,3.50H325.50" stroke="#111" stroke-width="1.00" fill="none"/>
<path d="M40.50,229.80H325.50" stroke="#6a6a6a" stroke-width="1.00" fill="none"/>
<path d="M40.50,229.80V233.40 M109.50,229.80V233.40 M158.60,229.80V233.40 M215.30,229.80V233.40 M253.80,229.80V233.40 M325.50,229.80V233.40" stroke="#111" stroke-width="1" fill="none"/>
<path d="M36.90,41.10H40.50 M36.90,116.60H40.50 M36.90,192.10H40.50" stroke="#111" stroke-width="1" fill="none"/>
<text x="40.50" y="244.60" font-size="11" text-anchor="middle" >Γ</text>
<text x="109.50" y="244.60" font-size="11" text-anchor="middle" >X</text>
<text x="158.60" y="244.60" font-size="11" text-anchor="middle" >S</text>
<text x="215.30" y="244.60" font-size="11" text-anchor="middle" >Γ</text>
<text x="253.80" y="244.60" font-size="11" text-anchor="middle" >Z</text>
<text x="325.50" y="244.60" font-size="11" text-anchor="middle" >N</text>
<text x="32.60" y="45.00" font-size="11" text-anchor="end" >1</text>
<text x="32.60" y="120.50" font-size="11" text-anchor="end" >0</text>
<text x="32.60" y="196.00" font-size="11" text-anchor="end" >−1</text>
<text transform="translate(13.6,116.4) rotate(-90)" font-size="11" text-anchor="middle">Energy (eV)</text>
<text x="5.6" y="9.8" font-size="16.5" font-weight="bold">a</text>
<rect x="46.2" y="166.2" width="89.3" height="57.7" rx="2.5" fill="#fff" fill-opacity="0.8" stroke="#d0d0d0" stroke-width="0.9"/>
<circle cx="61.6" cy="176.8" r="3.3" fill="#00ffff"/>
<circle cx="61.6" cy="195.6" r="3.3" fill="#8a2be2"/>
<path d="M61.6,210.4 L65.4,217 L57.8,217 Z" fill="#808080"/>
<text x="82" y="180.2" font-size="11">(Al) 3<tspan font-style="italic" font-size="11.8">p</tspan><tspan font-size="8.2" dy="2.2" font-style="italic" dx="0.3">x,</tspan><tspan font-size="8.2" font-style="italic" dx="2.0">y</tspan></text>
<text x="82" y="199.0" font-size="11">(Al) 3<tspan font-style="italic" font-size="11.8">p</tspan><tspan font-size="8.2" dy="2.2" font-style="italic" dx="0.3">z</tspan></text>
<text x="82" y="217.2" font-size="11">(Sr) 5<tspan font-style="italic" font-size="11.6">s</tspan></text>
<path d="M465.60,3.50V229.80 M515.00,3.50V229.80 M571.60,3.50V229.80 M610.00,3.50V229.80 M396.50,215.80H681.80 M396.50,179.52H681.80 M396.50,143.24H681.80 M396.50,106.96H681.80 M396.50,70.68H681.80 M396.50,34.40H681.80" stroke="#b0b0b0" stroke-width="0.9" fill="none"/>
<g fill="none" stroke="#000" stroke-width="1.6" stroke-linejoin="round" stroke-linecap="round">
<path d="M396.50,17.20C398.75,17.30 405.75,17.62 410.00,17.80C414.25,17.98 417.00,18.40 422.00,18.30C427.00,18.20 432.73,17.58 440.00,17.20C447.27,16.82 457.27,16.23 465.60,16.00C473.93,15.77 481.80,15.87 490.00,15.80C498.20,15.73 508.97,15.48 514.80,15.60C520.63,15.72 520.68,16.03 525.00,16.50C529.32,16.97 535.70,18.18 540.70,18.40C545.70,18.62 549.90,18.10 555.00,17.80C560.10,17.50 565.47,17.15 571.30,16.60C577.13,16.05 583.62,15.05 590.00,14.50C596.38,13.95 602.93,13.35 609.60,13.30C616.27,13.25 623.18,13.87 630.00,14.20C636.82,14.53 641.87,15.12 650.50,15.30C659.13,15.48 676.58,15.30 681.80,15.30"/>
<path d="M396.50,46.30C399.25,46.42 407.17,46.45 413.00,47.00C418.83,47.55 425.38,48.60 431.50,49.60C437.62,50.60 444.07,52.35 449.70,53.00C455.33,53.65 459.25,53.47 465.30,53.50C471.35,53.53 479.47,53.45 486.00,53.20C492.53,52.95 499.67,52.37 504.50,52.00C509.33,51.63 510.53,51.33 515.00,51.00C519.47,50.67 524.65,50.83 531.30,50.00C537.95,49.17 548.20,46.75 554.90,46.00C561.60,45.25 567.77,45.15 571.50,45.50C575.23,45.85 574.80,45.47 577.30,48.10C579.80,50.73 583.22,56.48 586.50,61.30C589.78,66.12 593.95,72.85 597.00,77.00C600.05,81.15 602.53,84.53 604.80,86.20C607.07,87.87 607.53,86.12 610.60,87.00C613.67,87.88 618.03,89.88 623.20,91.50C628.37,93.12 635.03,95.38 641.60,96.70C648.17,98.02 655.90,98.92 662.60,99.40C669.30,99.88 678.60,99.57 681.80,99.60"/>
<path d="M396.50,49.20C399.25,49.83 408.25,51.37 413.00,53.00C417.75,54.63 420.40,56.50 425.00,59.00C429.60,61.50 435.60,65.25 440.60,68.00C445.60,70.75 450.88,73.70 455.00,75.50C459.12,77.30 461.63,78.55 465.30,78.80C468.97,79.05 471.98,78.83 477.00,77.00C482.02,75.17 490.73,70.05 495.40,67.80C500.07,65.55 501.73,64.72 505.00,63.50C508.27,62.28 510.62,61.53 515.00,60.50C519.38,59.47 524.65,58.83 531.30,57.30C537.95,55.77 548.20,52.60 554.90,51.30C561.60,50.00 564.48,49.72 571.50,49.50C578.52,49.28 590.48,49.78 597.00,50.00C603.52,50.22 605.35,49.80 610.60,50.80C615.85,51.80 622.88,53.82 628.50,56.00C634.12,58.18 638.62,60.83 644.30,63.90C649.98,66.97 657.78,72.12 662.60,74.40C667.42,76.68 670.00,77.03 673.20,77.60C676.40,78.17 680.37,77.77 681.80,77.80"/>
<path d="M396.50,62.40C399.25,61.78 408.08,60.07 413.00,58.70C417.92,57.33 419.88,55.07 426.00,54.20C432.12,53.33 443.15,53.53 449.70,53.50C456.25,53.47 459.25,53.83 465.30,54.00C471.35,54.17 479.47,54.17 486.00,54.50C492.53,54.83 499.67,55.62 504.50,56.00C509.33,56.38 510.53,56.37 515.00,56.80C519.47,57.23 524.65,57.85 531.30,58.60C537.95,59.35 548.20,60.73 554.90,61.30C561.60,61.87 564.48,62.00 571.50,62.00C578.52,62.00 590.48,61.63 597.00,61.30C603.52,60.97 606.23,60.67 610.60,60.00C614.97,59.33 618.03,58.32 623.20,57.30C628.37,56.28 631.83,54.47 641.60,53.90C651.37,53.33 675.10,53.90 681.80,53.90"/>
<path d="M396.50,62.40C399.25,62.70 407.17,63.13 413.00,64.20C418.83,65.27 425.38,67.25 431.50,68.80C437.62,70.35 444.07,72.60 449.70,73.50C455.33,74.40 459.25,74.23 465.30,74.20C471.35,74.17 479.47,73.75 486.00,73.30C492.53,72.85 499.67,71.75 504.50,71.50C509.33,71.25 511.85,73.07 515.00,71.80C518.15,70.53 519.82,66.53 523.40,63.90C526.98,61.27 531.25,58.18 536.50,56.00C541.75,53.82 549.07,52.02 554.90,50.80C560.73,49.58 564.48,48.83 571.50,48.70C578.52,48.57 590.48,49.65 597.00,50.00C603.52,50.35 604.92,50.23 610.60,50.80C616.28,51.37 622.43,52.97 631.10,53.40C639.77,53.83 654.15,53.48 662.60,53.40C671.05,53.32 678.60,52.98 681.80,52.90"/>
<path d="M505.00,53.40C509.38,53.62 522.98,55.35 531.30,54.70C539.62,54.05 548.20,50.50 554.90,49.50C561.60,48.50 568.73,48.83 571.50,48.70"/>
<path d="M396.50,91.80C400.42,92.33 412.75,93.80 420.00,95.00C427.25,96.20 432.40,98.08 440.00,99.00C447.60,99.92 456.93,99.60 465.60,100.50C474.27,101.40 483.77,103.65 492.00,104.40C500.23,105.15 508.77,105.53 515.00,105.00C521.23,104.47 522.87,102.87 529.40,101.20C535.93,99.53 547.18,96.70 554.20,95.00C561.22,93.30 564.37,92.25 571.50,91.00C578.63,89.75 590.48,88.30 597.00,87.50C603.52,86.70 604.92,87.07 610.60,86.20C616.28,85.33 624.18,83.70 631.10,82.30C638.02,80.90 645.97,78.68 652.10,77.80C658.23,76.92 662.95,77.00 667.90,77.00C672.85,77.00 679.48,77.67 681.80,77.80"/>
<path d="M396.50,215.80C397.75,212.67 401.58,203.47 404.00,197.00C406.42,190.53 409.00,182.83 411.00,177.00C413.00,171.17 414.42,166.50 416.00,162.00C417.58,157.50 419.00,153.67 420.50,150.00C422.00,146.33 423.43,143.25 425.00,140.00C426.57,136.75 428.07,133.67 429.90,130.50C431.73,127.33 434.03,123.73 436.00,121.00C437.97,118.27 438.77,117.05 441.70,114.10C444.63,111.15 449.63,105.68 453.60,103.30C457.57,100.92 459.07,99.62 465.50,99.80C471.93,99.98 483.95,103.45 492.20,104.40C500.45,105.35 508.80,103.77 515.00,105.50C521.20,107.23 525.48,111.55 529.40,114.80C533.32,118.05 536.07,121.80 538.50,125.00C540.93,128.20 542.18,130.98 544.00,134.00C545.82,137.02 547.58,140.18 549.40,143.10C551.22,146.02 552.48,149.98 554.90,151.50C557.32,153.02 561.12,152.32 563.90,152.20C566.68,152.08 568.92,151.42 571.60,150.80C574.28,150.18 576.92,151.13 580.00,148.50C583.08,145.87 587.15,138.92 590.10,135.00C593.05,131.08 595.55,128.00 597.70,125.00C599.85,122.00 601.08,119.25 603.00,117.00C604.92,114.75 605.58,112.15 609.20,111.50C612.82,110.85 620.13,112.43 624.70,113.10C629.27,113.77 630.63,115.38 636.60,115.50C642.57,115.62 652.97,114.08 660.50,113.80C668.03,113.52 678.25,113.80 681.80,113.80"/>
<path d="M396.50,186.80C397.30,186.47 399.60,186.48 401.30,184.80C403.00,183.12 404.92,179.60 406.70,176.70C408.48,173.80 410.45,170.18 412.00,167.40C413.55,164.62 414.77,162.33 416.00,160.00C417.23,157.67 417.87,155.87 419.40,153.40C420.93,150.93 423.27,147.55 425.20,145.20C427.13,142.85 428.47,141.83 431.00,139.30C433.53,136.77 437.03,133.22 440.40,130.00C443.77,126.78 447.02,122.27 451.20,120.00C455.38,117.73 458.67,116.23 465.50,116.40C472.33,116.57 485.17,119.57 492.20,121.00C499.23,122.43 502.70,124.03 507.70,125.00C512.70,125.97 517.67,125.30 522.20,126.80C526.73,128.30 530.97,131.73 534.90,134.00C538.83,136.27 542.47,139.03 545.80,140.40C549.13,141.77 550.60,141.90 554.90,142.20C559.20,142.50 566.28,141.93 571.60,142.20C576.92,142.47 582.03,142.88 586.80,143.80C591.57,144.72 596.28,146.87 600.20,147.70C604.12,148.53 606.93,148.80 610.30,148.80C613.67,148.80 616.48,148.32 620.40,147.70C624.32,147.08 630.17,145.53 633.80,145.10C637.43,144.67 638.85,143.97 642.20,145.10C645.55,146.23 649.70,149.80 653.90,151.90C658.10,154.00 662.75,156.30 667.40,157.70C672.05,159.10 679.40,159.87 681.80,160.30"/>
<path d="M396.90,142.80C398.70,143.00 404.35,143.32 407.70,144.00C411.05,144.68 414.47,146.42 417.00,146.90C419.53,147.38 420.95,147.38 422.90,146.90C424.85,146.42 426.77,145.65 428.70,144.00C430.63,142.35 432.17,138.85 434.50,137.00C436.83,135.15 439.78,134.07 442.70,132.90C445.62,131.73 448.15,130.90 452.00,130.00C455.85,129.10 461.13,127.33 465.80,127.50C470.47,127.67 475.13,129.47 480.00,131.00C484.87,132.53 490.92,135.03 495.00,136.70C499.08,138.37 501.32,140.20 504.50,141.00C507.68,141.80 511.52,140.95 514.10,141.50C516.68,142.05 517.27,142.62 520.00,144.30C522.73,145.98 527.00,149.32 530.50,151.60C534.00,153.88 537.50,155.20 541.00,158.00C544.50,160.80 548.00,164.73 551.50,168.40C555.00,172.07 559.42,177.23 562.00,180.00C564.58,182.77 565.43,183.83 567.00,185.00C568.57,186.17 570.15,186.80 571.40,187.00C572.65,187.20 573.33,186.80 574.50,186.20C575.67,185.60 576.48,185.30 578.40,183.40C580.32,181.50 583.23,177.98 586.00,174.80C588.77,171.62 592.07,167.00 595.00,164.30C597.93,161.60 601.05,159.97 603.60,158.60C606.15,157.23 607.78,156.80 610.30,156.10C612.82,155.40 615.62,155.38 618.70,154.40C621.78,153.42 625.72,151.47 628.80,150.20C631.88,148.93 634.50,148.17 637.20,146.80C639.90,145.43 642.22,143.53 645.00,142.00C647.78,140.47 649.62,139.03 653.90,137.60C658.18,136.17 666.05,134.15 670.70,133.40C675.35,132.65 679.95,133.15 681.80,133.10"/>
<path d="M396.90,142.30C398.70,142.10 403.95,141.60 407.70,141.10C411.45,140.60 414.53,139.88 419.40,139.30C424.27,138.72 431.07,137.88 436.90,137.60C442.73,137.32 449.55,137.55 454.40,137.60C459.25,137.65 462.40,137.70 466.00,137.90C469.60,138.10 471.17,137.73 476.00,138.80C480.83,139.87 490.25,142.58 495.00,144.30C499.75,146.02 501.32,147.67 504.50,149.10C507.68,150.53 510.92,152.27 514.10,152.90C517.28,153.53 520.87,152.93 523.60,152.90C526.33,152.87 527.60,151.68 530.50,152.70C533.40,153.72 537.50,156.03 541.00,159.00C544.50,161.97 548.35,166.48 551.50,170.50C554.65,174.52 557.63,179.35 559.90,183.10C562.17,186.85 563.67,189.52 565.10,193.00C566.53,196.48 567.42,200.20 568.50,204.00C569.58,207.80 571.08,213.83 571.60,215.80"/>
<path d="M396.50,151.30C398.37,151.35 404.47,151.45 407.70,151.60C410.93,151.75 413.68,152.38 415.90,152.20C418.12,152.02 420.15,150.78 421.00,150.50"/>
<path d="M412.00,167.40C413.12,166.50 416.47,163.23 418.70,162.00C420.93,160.77 422.95,160.10 425.40,160.00C427.85,159.90 430.95,161.50 433.40,161.40C435.85,161.30 438.17,160.15 440.10,159.40C442.03,158.65 442.23,157.90 445.00,156.90C447.77,155.90 453.20,154.13 456.70,153.40C460.20,152.67 462.78,152.80 466.00,152.50C469.22,152.20 471.17,152.02 476.00,151.60C480.83,151.18 490.25,150.33 495.00,150.00C499.75,149.67 501.32,149.43 504.50,149.60C507.68,149.77 511.52,150.67 514.10,151.00C516.68,151.33 517.27,151.18 520.00,151.60C522.73,152.02 527.00,152.70 530.50,153.50C534.00,154.30 537.50,156.18 541.00,156.40C544.50,156.62 549.23,154.80 551.50,154.80C553.77,154.80 553.38,154.65 554.60,156.40C555.82,158.15 557.22,162.07 558.80,165.30C560.38,168.53 562.35,172.48 564.10,175.80C565.85,179.12 568.08,183.37 569.30,185.20C570.52,187.03 571.05,186.53 571.40,186.80"/>
<path d="M396.50,215.80C397.75,213.30 401.42,206.20 404.00,200.80C406.58,195.40 409.32,189.63 412.00,183.40C414.68,177.17 417.87,167.85 420.10,163.40C422.33,158.95 423.62,157.93 425.40,156.70C427.18,155.47 429.02,155.88 430.80,156.00C432.58,156.12 434.50,156.97 436.10,157.40C437.70,157.83 438.32,158.50 440.40,158.60C442.48,158.70 444.33,158.00 448.60,158.00C452.87,158.00 461.43,158.35 466.00,158.60C470.57,158.85 471.17,159.10 476.00,159.50C480.83,159.90 490.25,161.15 495.00,161.00C499.75,160.85 500.52,159.32 504.50,158.60C508.48,157.88 515.23,156.22 518.90,156.70C522.57,157.18 524.12,159.75 526.50,161.50C528.88,163.25 530.78,165.20 533.20,167.20C535.62,169.20 537.95,170.50 541.00,173.50C544.05,176.50 548.88,181.95 551.50,185.20C554.12,188.45 554.95,190.37 556.70,193.00C558.45,195.63 560.28,198.50 562.00,201.00C563.72,203.50 565.40,205.53 567.00,208.00C568.60,210.47 570.83,214.50 571.60,215.80"/>
<path d="M396.50,215.80C398.20,213.30 403.45,205.53 406.70,200.80C409.95,196.07 412.88,191.63 416.00,187.40C419.12,183.17 422.27,178.52 425.40,175.40C428.53,172.28 432.35,169.70 434.80,168.70C437.25,167.70 437.80,168.93 440.10,169.40C442.40,169.87 444.28,170.87 448.60,171.50C452.92,172.13 461.43,172.82 466.00,173.20C470.57,173.58 471.17,173.67 476.00,173.80C480.83,173.93 488.65,174.22 495.00,174.00C501.35,173.78 509.33,173.15 514.10,172.50C518.87,171.85 520.70,170.78 523.60,170.10C526.50,169.42 529.10,168.33 531.50,168.40C533.90,168.47 535.75,168.95 538.00,170.50C540.25,172.05 542.23,173.95 545.00,177.70C547.77,181.45 551.77,188.78 554.60,193.00C557.43,197.22 559.93,200.25 562.00,203.00C564.07,205.75 565.40,207.37 567.00,209.50C568.60,211.63 570.83,214.75 571.60,215.80"/>
<path d="M396.50,215.80C398.65,213.52 405.03,206.60 409.40,202.10C413.77,197.60 418.25,192.80 422.70,188.80C427.15,184.80 432.22,180.88 436.10,178.10C439.98,175.32 442.95,173.70 446.00,172.10C449.05,170.50 451.07,169.28 454.40,168.50C457.73,167.72 462.40,167.78 466.00,167.40C469.60,167.02 471.17,167.50 476.00,166.20C480.83,164.90 490.25,161.02 495.00,159.60C499.75,158.18 501.32,158.18 504.50,157.70C507.68,157.22 510.92,157.42 514.10,156.70C517.28,155.98 520.87,154.25 523.60,153.40C526.33,152.55 527.60,152.58 530.50,151.60C533.40,150.62 537.50,148.72 541.00,147.50C544.50,146.28 548.00,145.05 551.50,144.30C555.00,143.55 558.65,143.30 562.00,143.00C565.35,142.70 566.93,142.42 571.60,142.50C576.27,142.58 584.77,142.83 590.00,143.50C595.23,144.17 599.62,145.67 603.00,146.50C606.38,147.33 606.85,148.73 610.30,148.50C613.75,148.27 619.78,147.05 623.70,145.10C627.62,143.15 630.43,140.15 633.80,136.80C637.17,133.45 640.87,128.47 643.90,125.00C646.93,121.53 649.23,118.38 652.00,116.00C654.77,113.62 657.50,112.53 660.50,110.70C663.50,108.87 666.45,106.58 670.00,105.00C673.55,103.42 679.83,101.83 681.80,101.20"/>
<path d="M606.00,157.50C607.00,157.12 608.20,156.98 612.00,155.20C615.80,153.42 623.22,149.60 628.80,146.80C634.38,144.00 639.92,140.63 645.50,138.40C651.08,136.17 656.25,134.37 662.30,133.40C668.35,132.43 678.55,132.73 681.80,132.60"/>
<path d="M571.60,215.80C572.17,214.17 573.60,209.47 575.00,206.00C576.40,202.53 577.20,200.38 580.00,195.00C582.80,189.62 588.43,178.52 591.80,173.70C595.17,168.88 597.12,167.78 600.20,166.10C603.28,164.42 607.50,163.45 610.30,163.60C613.10,163.75 614.77,165.88 617.00,167.00C619.23,168.12 621.47,170.58 623.70,170.30C625.93,170.02 627.32,167.53 630.40,165.30C633.48,163.07 638.83,158.43 642.20,156.90C645.57,155.37 646.97,155.68 650.60,156.10C654.23,156.52 658.80,158.57 664.00,159.40C669.20,160.23 678.83,160.82 681.80,161.10"/>
<path d="M580.50,215.80C581.42,214.17 583.55,209.47 586.00,206.00C588.45,202.53 591.43,198.43 595.20,195.00C598.97,191.57 605.53,187.13 608.60,185.40C611.67,183.67 610.80,186.42 613.60,184.60C616.40,182.78 621.47,177.43 625.40,174.50C629.33,171.57 632.45,168.95 637.20,167.00C641.95,165.05 646.47,163.78 653.90,162.80C661.33,161.82 677.15,161.38 681.80,161.10"/>
<path d="M625.40,174.50C627.37,174.92 632.45,176.85 637.20,177.00C641.95,177.15 648.32,176.65 653.90,175.40C659.48,174.15 666.05,170.77 670.70,169.50C675.35,168.23 679.95,168.08 681.80,167.80"/>
<path d="M640.50,146.00C642.73,147.25 648.87,151.12 653.90,153.50C658.93,155.88 666.05,159.03 670.70,160.30C675.35,161.57 679.95,160.97 681.80,161.10"/>
</g>
<path d="M571.60,215.80C572.00,216.22 573.10,217.63 574.00,218.30C574.90,218.97 576.08,219.68 577.00,219.80C577.92,219.92 578.92,219.55 579.50,219.00C580.08,218.45 580.33,216.92 580.50,216.50" stroke="#f00" stroke-width="1.6" fill="none" stroke-linecap="round"/>
<path d="M396.50,3.50V229.80" stroke="#111" stroke-width="1.00" fill="none"/>
<path d="M681.80,3.50V229.80" stroke="#111" stroke-width="1.00" fill="none"/>
<path d="M396.50,3.50H681.80" stroke="#111" stroke-width="1.00" fill="none"/>
<path d="M396.50,229.80H681.80" stroke="#6a6a6a" stroke-width="1.00" fill="none"/>
<path d="M396.50,229.80V233.40 M465.60,229.80V233.40 M515.00,229.80V233.40 M571.60,229.80V233.40 M610.00,229.80V233.40 M681.80,229.80V233.40" stroke="#111" stroke-width="1" fill="none"/>
<path d="M392.90,215.80H396.50 M392.90,179.52H396.50 M392.90,143.24H396.50 M392.90,106.96H396.50 M392.90,70.68H396.50 M392.90,34.40H396.50" stroke="#111" stroke-width="1" fill="none"/>
<text x="396.50" y="244.60" font-size="11" text-anchor="middle" >Γ</text>
<text x="465.60" y="244.60" font-size="11" text-anchor="middle" >X</text>
<text x="515.00" y="244.60" font-size="11" text-anchor="middle" >S</text>
<text x="571.60" y="244.60" font-size="11" text-anchor="middle" >Γ</text>
<text x="610.00" y="244.60" font-size="11" text-anchor="middle" >Z</text>
<text x="681.80" y="244.60" font-size="11" text-anchor="middle" >N</text>
<text x="389.40" y="219.70" font-size="11" text-anchor="end" >0</text>
<text x="389.40" y="183.42" font-size="11" text-anchor="end" >2</text>
<text x="389.40" y="147.14" font-size="11" text-anchor="end" >4</text>
<text x="389.40" y="110.86" font-size="11" text-anchor="end" >6</text>
<text x="389.40" y="74.58" font-size="11" text-anchor="end" >8</text>
<text x="389.40" y="38.30" font-size="11" text-anchor="end" >10</text>
<text transform="translate(370.8,116.0) rotate(-90)" font-size="11" text-anchor="middle">Frequency (THz)</text>
<text x="359" y="9.8" font-size="16.5" font-weight="bold">c</text>
<path d="M108.6,264.90V491.40 M40.50,329.9H325.50" stroke="#b0b0b0" stroke-width="0.9" fill="none"/>
<defs><clipPath id="cb"><rect x="40.50" y="264.90" width="285.00" height="226.50"/></clipPath></defs>
<path d="M208.90,344.20L285.30,350.90 M285.30,350.90L258.00,373.20 M258.00,373.20L181.40,366.40 M181.40,366.40L208.90,344.20 M208.90,344.20L204.50,359.60 M204.50,359.60L215.20,376.60 M204.50,359.60L195.10,380.00 M215.20,376.60L292.20,383.00 M285.30,350.90L295.60,368.20 M295.60,368.20L300.80,389.30 M292.20,383.00L295.60,368.20 M292.20,383.00L297.80,403.00 M300.80,389.30L272.30,412.20 M297.80,403.00L286.50,424.30 M258.00,373.20L262.40,393.80 M262.40,393.80L253.60,414.40 M262.40,393.80L272.30,412.20 M253.60,414.40L263.00,432.50 M272.30,412.20L263.00,432.50 M263.00,432.50L260.00,446.50 M181.40,366.40L171.50,385.70 M171.50,385.70L167.20,401.50 M171.50,385.70L176.50,407.90 M167.20,401.50L171.50,423.00 M176.50,407.90L171.50,423.00 M167.20,401.50L195.10,380.00 M195.10,380.00L205.80,397.20 M215.20,376.60L205.80,397.20 M205.80,397.20L209.40,417.60 M171.50,423.00L182.20,440.80 M182.20,440.80L209.40,417.60 M182.20,440.80L260.00,446.50 M209.40,417.60L286.50,424.30 M176.50,407.90L253.60,414.40" stroke="#222" stroke-width="0.6" fill="none" stroke-linecap="round"/>
<path d="M233.9,396.3V336 M233.9,396.3L304.5,402.4 M233.9,396.3L202.5,418.6" stroke="#333" stroke-width="0.6" stroke-dasharray="2 1.6" fill="none"/>
<path d="M306.5,402.6l-4,1.6l0.3,-3.4z M200.6,419.9l2.2,-3.6l1.6,2.6z" fill="#333"/>
<circle cx="233.9" cy="396.3" r="0.9" fill="#111"/>
<circle cx="233.9" cy="359.6" r="0.9" fill="#111"/>
<circle cx="233.9" cy="336.2" r="0.9" fill="#111"/>
<circle cx="216.8" cy="389.9" r="0.9" fill="#111"/>
<circle cx="262.6" cy="394.9" r="0.9" fill="#111"/>
<circle cx="263.0" cy="412.8" r="0.9" fill="#111"/>
<circle cx="212.9" cy="411.3" r="0.9" fill="#111"/>
<circle cx="219.6" cy="369.6" r="0.9" fill="#111"/>
<circle cx="257.8" cy="373.9" r="0.9" fill="#111"/>
<text x="237.3" y="342.6" font-size="9.5" class="sf">k<tspan font-size="6.5" dy="1.8">z</tspan></text>
<text x="236.2" y="363.2" font-size="9.5" class="sf">Z</text>
<text x="217.6" y="399" font-size="9.5" class="sf">N</text>
<text x="235.0" y="403.8" font-size="9.5" class="sf">Γ</text>
<text x="266.0" y="397.6" font-size="9.5" class="sf">P</text>
<text x="208.6" y="408.6" font-size="9.5" class="sf">S</text>
<text x="261.3" y="422.8" font-size="9.5" class="sf">X</text>
<text x="188.6" y="420.2" font-size="9.5" class="sf">k<tspan font-size="6.5" dy="1.8">x</tspan></text>
<text x="297.0" y="415.2" font-size="9.5" class="sf">k<tspan font-size="6.5" dy="1.8">y</tspan></text>
<path clip-path="url(#cb)" d="M80.20,264.00C80.65,266.62 82.00,273.92 82.90,279.70C83.80,285.48 84.47,292.60 85.60,298.70C86.73,304.80 88.63,312.42 89.70,316.30C90.77,320.18 91.10,319.97 92.00,322.00C92.90,324.03 94.18,326.58 95.10,328.50C96.02,330.42 96.82,332.28 97.50,333.50C98.18,334.72 98.62,335.38 99.20,335.80C99.78,336.22 100.42,336.08 101.00,336.00C101.58,335.92 102.12,335.80 102.70,335.30C103.28,334.80 103.97,333.58 104.50,333.00C105.03,332.42 105.32,332.22 105.90,331.80C106.48,331.38 107.32,330.82 108.00,330.50C108.68,330.18 109.33,329.73 110.00,329.90C110.67,330.07 111.33,330.65 112.00,331.50C112.67,332.35 113.20,333.68 114.00,335.00C114.80,336.32 115.80,337.40 116.80,339.40C117.80,341.40 118.65,343.62 120.00,347.00C121.35,350.38 123.73,356.53 124.90,359.70C126.07,362.87 126.45,364.28 127.00,366.00C127.55,367.72 127.65,368.28 128.20,370.00C128.75,371.72 129.43,374.37 130.30,376.30C131.17,378.23 132.35,379.50 133.40,381.60C134.45,383.70 135.55,386.28 136.60,388.90C137.65,391.52 138.48,393.80 139.70,397.30C140.92,400.80 142.50,406.05 143.90,409.90C145.30,413.75 146.87,417.60 148.10,420.40C149.33,423.20 150.07,424.42 151.30,426.70C152.53,428.98 154.10,431.82 155.50,434.10C156.90,436.38 158.30,438.48 159.70,440.40C161.10,442.32 162.68,444.20 163.90,445.60C165.12,447.00 165.95,447.92 167.00,448.80C168.05,449.68 168.97,450.45 170.20,450.90C171.43,451.35 173.18,451.25 174.40,451.50C175.62,451.75 176.45,452.33 177.50,452.40C178.55,452.47 179.65,451.45 180.70,451.90C181.75,452.35 182.75,454.05 183.80,455.10C184.85,456.15 185.95,456.98 187.00,458.20C188.05,459.42 188.88,461.35 190.10,462.40C191.32,463.45 192.90,464.32 194.30,464.50C195.70,464.68 197.10,463.32 198.50,463.50C199.90,463.68 201.30,465.43 202.70,465.60C204.10,465.77 205.50,464.85 206.90,464.50C208.30,464.15 209.70,463.50 211.10,463.50C212.50,463.50 213.90,463.98 215.30,464.50C216.70,465.02 217.88,465.72 219.50,466.60C221.12,467.48 223.37,468.67 225.00,469.80C226.63,470.93 227.97,472.53 229.30,473.40C230.63,474.27 231.55,474.27 233.00,475.00C234.45,475.73 236.50,476.97 238.00,477.80C239.50,478.63 240.53,479.27 242.00,480.00C243.47,480.73 245.63,481.95 246.80,482.20C247.97,482.45 248.27,481.98 249.00,481.50C249.73,481.02 250.35,480.55 251.20,479.30C252.05,478.05 253.30,474.63 254.10,474.00C254.90,473.37 255.27,475.35 256.00,475.50C256.73,475.65 257.67,475.32 258.50,474.90C259.33,474.48 260.03,473.73 261.00,473.00C261.97,472.27 263.30,471.33 264.30,470.50C265.30,469.67 266.03,468.97 267.00,468.00C267.97,467.03 269.27,466.20 270.10,464.70C270.93,463.20 271.27,460.95 272.00,459.00C272.73,457.05 273.60,453.75 274.50,453.00C275.40,452.25 276.57,453.67 277.40,454.50C278.23,455.33 278.77,456.78 279.50,458.00C280.23,459.22 280.97,460.47 281.80,461.80C282.63,463.13 283.52,464.80 284.50,466.00C285.48,467.20 286.70,468.67 287.70,469.00C288.70,469.33 289.53,468.23 290.50,468.00C291.47,467.77 292.50,467.77 293.50,467.60C294.50,467.43 295.53,467.25 296.50,467.00C297.47,466.75 298.38,466.77 299.30,466.10C300.22,465.43 301.02,464.22 302.00,463.00C302.98,461.78 304.20,460.47 305.20,458.80C306.20,457.13 307.03,454.93 308.00,453.00C308.97,451.07 309.92,449.37 311.00,447.20C312.08,445.03 313.28,442.43 314.50,440.00C315.72,437.57 317.13,434.93 318.30,432.60C319.47,430.27 320.30,428.27 321.50,426.00C322.70,423.73 324.83,420.17 325.50,419.00" stroke="#000" stroke-width="2.0" fill="none" stroke-linejoin="round"/>
<path d="M40.50,264.90V491.40" stroke="#111" stroke-width="1.00" fill="none"/>
<path d="M325.50,264.90V491.40" stroke="#111" stroke-width="1.00" fill="none"/>
<path d="M40.50,264.90H325.50" stroke="#111" stroke-width="1.00" fill="none"/>
<path d="M40.50,491.40H325.50" stroke="#111" stroke-width="1.00" fill="none"/>
<path d="M40.50,264.90H325.50" stroke="#777" stroke-width="1" fill="none"/>
<path d="M40.50,491.40V495.00 M108.60,491.40V495.00 M325.50,491.40V495.00" stroke="#111" stroke-width="1" fill="none"/>
<path d="M36.90,329.90H40.50 M36.90,491.40H40.50" stroke="#111" stroke-width="1" fill="none"/>
<text x="40.50" y="505.60" font-size="11" text-anchor="middle" >Γ</text>
<text x="108.60" y="505.60" font-size="11" text-anchor="middle" >0.12</text>
<text x="325.50" y="505.60" font-size="11" text-anchor="middle" font-style="italic">Z</text>
<text x="32.60" y="333.80" font-size="11" text-anchor="end" >1.0</text>
<text x="32.60" y="495.30" font-size="11" text-anchor="end" >0.5</text>
<text x="183.00" y="521.30" font-size="11" text-anchor="middle" >Wavevector <tspan letter-spacing="0.7">(2<tspan font-style="italic">π</tspan>/<tspan font-style="italic">c</tspan>)</tspan></text>
<text transform="translate(9.9,379) rotate(-90)" font-size="11" text-anchor="middle"><tspan font-style="italic" font-size="11.5">χ</tspan><tspan font-size="8.3" dy="2.4" dx="0.4">0</tspan><tspan dy="-2.4"> (a.u.)</tspan></text>
<path d="M0.4,388.5L3.9,389.5M0.4,390.5L3.9,391.5" stroke="#111" stroke-width="0.75" fill="none"/>
<text x="5.9" y="272.9" font-size="16.5" font-weight="bold">b</text>
<path d="M445.3,264.90V491.40 M395.70,295.0H681.00 M395.70,446.5H681.00" stroke="#b0b0b0" stroke-width="0.9" fill="none"/>
<defs><clipPath id="cd"><rect x="395.70" y="264.90" width="285.30" height="226.50"/></clipPath></defs>
<g clip-path="url(#cd)" fill="none" stroke-linecap="round" stroke-linejoin="round">
<path d="M396.43,447.69L398.52,446.54L400.61,445.29L402.69,444.03L404.77,442.75L406.84,441.46L408.92,440.14L411.01,438.81L413.09,437.45L415.17,436.08L417.26,434.68L419.35,433.25L421.44,431.80L423.53,430.33L425.62,428.84L427.71,427.31L429.81,425.76L431.90,424.19L434.00,422.59L436.10,420.96L438.20,419.30L440.30,417.61L442.40,415.90L444.50,414.16L446.60,412.39L448.71,410.59L450.81,408.77L452.84,406.84L454.87,404.88L456.89,402.89L458.92,400.87L460.94,398.83L462.96,396.76L464.99,394.67L467.01,392.55L469.03,390.40L471.05,388.24L473.07,386.04L475.09,383.83L477.11,381.59L479.13,379.33L481.14,377.04L483.16,374.74L485.18,372.41L487.19,370.07L489.21,367.70L491.22,365.32L493.23,362.92L495.25,360.51L497.26,358.08L499.27,355.63L501.28,353.18L503.29,350.71L505.30,348.22L507.31,345.73L509.32,343.24L511.32,340.73L513.33,338.22L515.34,335.70L517.34,333.18L519.35,330.66L521.35,328.14L523.35,325.62L525.36,323.10L527.36,320.59L529.36,318.08L531.36,315.58L533.35,313.09L535.35,310.61L537.35,308.15L539.34,305.70L541.34,303.26L543.33,300.85L545.32,298.46L547.31,296.09L549.30,293.75L551.29,291.43L553.27,289.14L555.26,286.89L557.24,284.67L559.22,282.48L561.19,280.34L563.17,278.24L565.14,276.18L567.11,274.16L569.08,272.20L571.04,270.29L573.00,268.43L574.95,266.63L576.93,264.86L571.07,258.30L569.04,260.11L566.99,262.00L564.94,263.94L562.90,265.93L560.86,267.97L558.82,270.06L556.78,272.18L554.75,274.34L552.72,276.55L550.69,278.78L548.67,281.05L546.65,283.35L544.63,285.68L542.61,288.03L540.59,290.41L538.57,292.81L536.56,295.23L534.54,297.67L532.53,300.13L530.52,302.60L528.51,305.08L526.50,307.57L524.49,310.08L522.48,312.59L520.47,315.10L518.47,317.62L516.46,320.14L514.46,322.66L512.46,325.18L510.46,327.70L508.45,330.22L506.45,332.73L504.45,335.23L502.45,337.73L500.45,340.22L498.46,342.69L496.46,345.16L494.46,347.61L492.47,350.05L490.47,352.48L488.48,354.88L486.48,357.28L484.49,359.65L482.50,362.01L480.51,364.34L478.51,366.66L476.52,368.96L474.53,371.23L472.54,373.48L470.56,375.71L468.57,377.92L466.58,380.10L464.59,382.25L462.61,384.39L460.62,386.49L458.64,388.57L456.65,390.63L454.67,392.65L452.69,394.66L450.70,396.63L448.72,398.58L446.74,400.50L444.76,402.39L442.86,404.34L440.96,406.27L439.05,408.17L437.15,410.04L435.25,411.88L433.34,413.71L431.43,415.50L429.52,417.27L427.61,419.02L425.70,420.74L423.79,422.44L421.88,424.11L419.96,425.76L418.05,427.39L416.13,429.00L414.21,430.58L412.29,432.15L410.37,433.69L408.44,435.22L406.52,436.72L404.59,438.21L402.66,439.68L400.73,441.14L398.80,442.58L396.89,443.99L394.97,445.31Z" fill="#8a8a8a" stroke="#8a8a8a" stroke-width="0.5" stroke-linejoin="round"/>
<path d="M405.72,439.83L407.72,438.43L409.72,437.01L411.73,435.57L413.73,434.11L415.73,432.63L417.74,431.13L419.74,429.60L421.74,428.05L423.75,426.47L425.75,424.87L427.75,423.25L429.76,421.60L431.76,419.93L433.76,418.23L435.77,416.50L437.77,414.75L439.77,412.97L441.78,411.16L443.78,409.33L445.78,407.47L447.79,405.58L449.79,403.67L451.79,401.73L453.80,399.76L455.80,397.76L457.80,395.74L459.81,393.69L461.81,391.62L463.81,389.52L465.82,387.40L467.82,385.24L469.82,383.07L471.83,380.87L473.83,378.65L475.83,376.40L477.84,374.14L479.84,371.85L481.84,369.54L483.85,367.21L485.85,364.86L487.86,362.49L489.86,360.10L491.86,357.70L493.87,355.28L495.87,352.84L497.87,350.39L499.88,347.93L501.88,345.46L503.88,342.98L505.89,340.48L507.89,337.98L509.89,335.47L511.90,332.96L513.90,330.44L515.90,327.92L517.91,325.40L519.91,322.88L521.91,320.36L523.92,317.84L525.92,315.33L527.92,312.83L529.93,310.33L531.93,307.85L533.93,305.37L535.94,302.91L537.94,300.47L539.94,298.04L541.95,295.64L543.95,293.25L545.95,290.89L547.96,288.55L549.96,286.25L551.96,283.97L553.97,281.72L555.97,279.51L557.97,277.34L559.98,275.21L561.98,273.12L563.98,271.07L565.99,269.07L567.99,267.11L569.99,265.21L572.00,263.37L574.00,261.58" stroke="#e8c830" stroke-width="1.7" stroke-dasharray="1.1 1.2"/>
<path d="M435.13,419.82L437.14,418.09L439.16,416.32L441.17,414.53L443.19,412.72L445.20,410.87L447.22,409.00L449.23,407.11L451.25,405.18L453.26,403.23L455.27,401.25L457.29,399.25L459.30,397.21L461.31,395.16L463.33,393.07L465.34,390.97L467.35,388.83L469.36,386.67L471.37,384.49L473.38,382.28L475.39,380.05L477.41,377.80L479.42,375.52L481.43,373.23L483.43,370.91L485.44,368.57L487.45,366.21L489.46,363.84L491.47,361.45L493.48,359.04L495.48,356.61L497.49,354.17L499.50,351.72L501.51,349.26L503.51,346.78L505.52,344.29L507.52,341.80L509.53,339.29L511.53,336.78L513.54,334.27L515.54,331.75L517.55,329.23L519.55,326.71L521.55,324.19L523.56,321.67L525.56,319.15L527.56,316.64L529.56,314.14L531.56,311.65L533.56,309.17L535.56,306.70L537.56,304.24L539.56,301.80L541.56,299.38L543.56,296.98L545.55,294.61L547.55,292.25L549.55,289.93L551.54,287.63L553.53,285.36L555.53,283.13L557.52,280.93L559.51,278.77L561.50,276.65L563.49,274.58L565.48,272.55L567.46,270.56L569.45,268.63L571.43,266.75L573.41,264.92L575.40,263.15" stroke="#e8c830" stroke-width="1.3" stroke-dasharray="1.0 1.3"/>
<path d="M432.39,416.64L434.39,414.92L436.38,413.17L438.37,411.40L440.37,409.61L442.36,407.79L444.35,405.94L446.34,404.06L448.33,402.15L450.33,400.22L452.32,398.27L454.31,396.28L456.31,394.27L458.30,392.23L460.30,390.17L462.29,388.08L464.29,385.96L466.28,383.82L468.28,381.65L470.27,379.46L472.27,377.25L474.26,375.01L476.26,372.75L478.26,370.47L480.26,368.16L482.25,365.84L484.25,363.50L486.25,361.13L488.25,358.75L490.25,356.35L492.25,353.94L494.25,351.51L496.24,349.07L498.25,346.61L500.25,344.14L502.25,341.66L504.25,339.17L506.25,336.67L508.25,334.16L510.25,331.65L512.26,329.13L514.26,326.61L516.26,324.09L518.27,321.57L520.27,319.05L522.27,316.53L524.28,314.02L526.28,311.51L528.29,309.02L530.30,306.53L532.30,304.05L534.31,301.58L536.32,299.13L538.33,296.70L540.34,294.29L542.34,291.90L544.36,289.53L546.37,287.18L548.38,284.86L550.39,282.58L552.40,280.32L554.42,278.10L556.44,275.91L558.45,273.76L560.47,271.66L562.49,269.59L564.51,267.57L566.53,265.60L568.56,263.68L570.59,261.81L572.60,260.01" stroke="#e8c830" stroke-width="1.3" stroke-dasharray="1.0 1.3"/>
<path d="M397.40,446.50C398.62,442.50 402.32,430.25 404.70,422.50C407.08,414.75 408.87,408.67 411.70,400.00C414.53,391.33 418.37,380.25 421.70,370.50C425.03,360.75 427.37,354.13 431.70,341.50C436.03,328.87 443.02,307.48 447.70,294.70C452.38,281.92 457.47,270.58 459.80,264.80C462.13,259.02 461.38,260.80 461.70,260.00" stroke="#999" stroke-width="3.4"/>
<path d="M397.40,446.50C398.62,442.50 402.32,430.25 404.70,422.50C407.08,414.75 408.87,408.67 411.70,400.00C414.53,391.33 418.37,380.25 421.70,370.50C425.03,360.75 427.37,354.13 431.70,341.50C436.03,328.87 443.02,307.48 447.70,294.70C452.38,281.92 457.47,270.58 459.80,264.80C462.13,259.02 461.38,260.80 461.70,260.00" stroke="#e8c830" stroke-width="2.2" stroke-dasharray="1.0 1.5"/>
<path d="M395.70,446.50C396.92,442.50 400.62,430.25 403.00,422.50C405.38,414.75 407.17,408.67 410.00,400.00C412.83,391.33 416.67,380.25 420.00,370.50C423.33,360.75 425.67,354.13 430.00,341.50C434.33,328.87 441.32,307.48 446.00,294.70C450.68,281.92 455.77,270.58 458.10,264.80C460.43,259.02 459.68,260.80 460.00,260.00" stroke="#000" stroke-width="1.6"/>
<path d="M395.70,446.50C397.03,447.63 400.83,450.83 403.70,453.30C406.57,455.77 409.45,458.43 412.90,461.30C416.35,464.17 420.58,468.02 424.40,470.50C428.22,472.98 432.37,474.93 435.80,476.20C439.23,477.47 441.93,478.17 445.00,478.10C448.07,478.03 451.53,477.07 454.20,475.80C456.87,474.53 459.28,472.72 461.00,470.50C462.72,468.28 463.73,466.13 464.50,462.50C465.27,458.87 465.42,451.00 465.60,448.70" stroke="#ff0000" stroke-width="1.9"/>
<path d="M465.43,448.70C465.52,447.34 465.62,443.27 465.99,440.56C466.35,437.85 466.92,435.13 467.61,432.42C468.30,429.71 469.17,427.00 470.14,424.28C471.10,421.57 472.22,418.86 473.41,416.14C474.60,413.43 475.91,410.72 477.29,408.00C478.66,405.29 480.13,402.58 481.65,399.87C483.17,397.15 484.76,394.44 486.38,391.73C488.01,389.01 489.69,386.30 491.39,383.59C493.09,380.87 494.83,378.16 496.58,375.45C498.33,372.73 500.11,370.02 501.89,367.31C503.67,364.60 505.47,361.88 507.26,359.17C509.05,356.46 510.85,353.74 512.65,351.03C514.45,348.32 516.24,345.60 518.03,342.89C519.83,340.18 521.62,337.47 523.40,334.75C525.19,332.04 526.97,329.33 528.76,326.61C530.54,323.90 532.33,321.19 534.12,318.47C535.92,315.76 537.71,313.05 539.53,310.33C541.35,307.62 543.17,304.91 545.03,302.20C546.90,299.48 548.77,296.77 550.70,294.06C552.64,291.34 554.59,288.63 556.63,285.92C558.66,283.20 560.73,280.49 562.90,277.78C565.07,275.07 567.30,272.35 569.65,269.64C572.01,266.93 575.79,262.86 577.02,261.50" stroke="#000" stroke-width="1.9"/>
</g>
<path d="M395.70,264.90V491.40" stroke="#111" stroke-width="1.00" fill="none"/>
<path d="M681.00,264.90V491.40" stroke="#111" stroke-width="1.00" fill="none"/>
<path d="M395.70,264.90H681.00" stroke="#111" stroke-width="1.00" fill="none"/>
<path d="M395.70,491.40H681.00" stroke="#111" stroke-width="1.00" fill="none"/>
<path d="M395.70,264.90H681.00" stroke="#777" stroke-width="1" fill="none"/>
<path d="M681.00,264.90V491.40" stroke="#666" stroke-width="1" fill="none"/>
<path d="M395.70,491.40V495.00 M445.30,491.40V495.00 M681.00,491.40V495.00" stroke="#111" stroke-width="1" fill="none"/>
<path d="M392.10,295.00H395.70 M392.10,446.50H395.70" stroke="#111" stroke-width="1" fill="none"/>
<text x="395.70" y="505.60" font-size="11" text-anchor="middle" >Γ</text>
<text x="445.30" y="505.60" font-size="11" text-anchor="middle" >0.1</text>
<text x="681.00" y="505.60" font-size="11" text-anchor="middle" >Z</text>
<text x="388.00" y="298.90" font-size="11" text-anchor="end" >1</text>
<text x="388.00" y="450.40" font-size="11" text-anchor="end" >0</text>
<text x="538.50" y="521.30" font-size="11" text-anchor="middle" >Wavevector <tspan letter-spacing="0.7">(2<tspan font-style="italic">π</tspan>/<tspan font-style="italic">c</tspan>)</tspan></text>
<text transform="translate(376,378) rotate(-90)" font-size="11" text-anchor="middle">Frequency (THz)</text>
<text x="358.7" y="273.3" font-size="16.5" font-weight="bold">d</text>
<rect x="581.4" y="432.6" width="94" height="53.4" rx="2.5" fill="#fff" fill-opacity="0.8" stroke="#d0d0d0" stroke-width="0.9"/>
<path d="M585.2,441.6H608.8" stroke="#000" stroke-width="1.7"/>
<path d="M585.2,458.6H608.8" stroke="#808080" stroke-width="1" stroke-dasharray="3.2 1.6"/>
<circle cx="597.2" cy="475.9" r="2.8" fill="#f5d442" stroke="#a0a0a0" stroke-width="0.6"/>
<text x="617.6" y="445.6" font-size="11"><tspan font-style="italic">σ</tspan>=1 mRy</text>
<text x="617.6" y="462.6" font-size="11"><tspan font-style="italic">σ</tspan>=10 mRy</text>
<text x="617.6" y="479.6" font-size="11">Linewidth</text>
</svg>
</body></html>
